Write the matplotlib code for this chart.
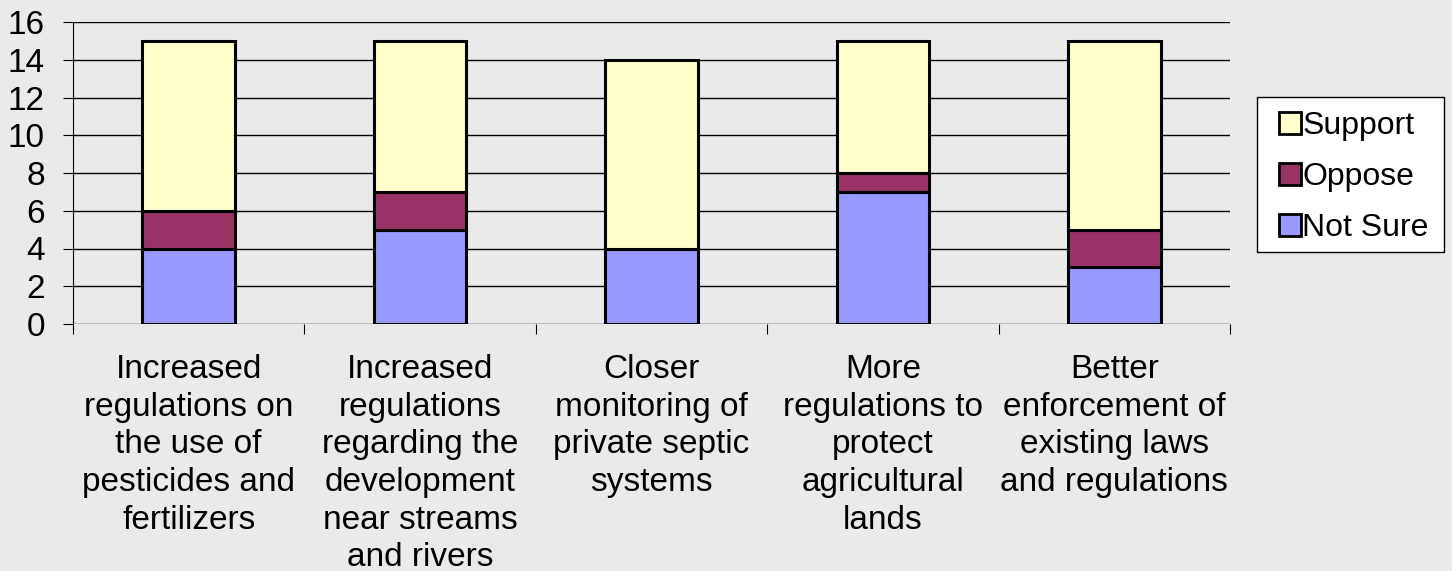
import matplotlib
matplotlib.use("Agg")
import matplotlib.pyplot as plt
import numpy as np
from matplotlib.patches import Patch, Rectangle

categories = [
    "Increased\nregulations on\nthe use of\npesticides and\nfertilizers",
    "Increased\nregulations\nregarding the\ndevelopment\nnear streams\nand rivers",
    "Closer\nmonitoring of\nprivate septic\nsystems",
    "More\nregulations to\nprotect\nagricultural\nlands",
    "Better\nenforcement of\nexisting laws\nand regulations",
]
not_sure = [4, 5, 4, 7, 3]
oppose = [2, 2, 0, 1, 2]
support = [9, 8, 10, 7, 10]

c_notsure = "#9999FF"
c_oppose = "#993366"
c_support = "#FFFFCC"
bg = "#EAEAEA"

plt.rcParams['font.family'] = ['Liberation Sans', 'DejaVu Sans']

W, H = 1452, 571
fig = plt.figure(figsize=(W/100, H/100), dpi=100, facecolor=bg)
ax = fig.add_axes([73/W, 1-324/H, (1230-73)/W, (324-22)/H])
ax.set_facecolor(bg)

x = np.arange(len(categories))
w = 0.4
ns = np.array(not_sure); op = np.array(oppose); sp = np.array(support)
ax.bar(x, ns, w, color=c_notsure, edgecolor="black", linewidth=2.2, zorder=3)
ax.bar(x, op, w, bottom=ns, color=c_oppose, edgecolor="black", linewidth=2.2, zorder=3)
ax.bar(x, sp, w, bottom=ns+op, color=c_support, edgecolor="black", linewidth=2.2, zorder=3)

ax.set_xlim(-0.5, len(categories)-0.5)
ax.set_ylim(0, 16)
ax.set_yticks(range(0, 17, 2))
ax.yaxis.grid(True, color="black", linewidth=1.0, zorder=0)
ax.tick_params(axis='y', labelsize=24, length=7.2, width=0.8, pad=13)

ax.set_xticks(x)
ax.set_xticklabels(categories, fontsize=24, linespacing=1.28)
ax.tick_params(axis='x', which='major', length=0, pad=21.5)
ax.set_xticks(np.arange(-0.5, len(categories), 1.0), minor=True)
ax.tick_params(axis='x', which='minor', length=7.2, width=0.8)

for s in ['top', 'right', 'bottom']:
    ax.spines[s].set_visible(False)
ax.spines['left'].set_linewidth(0.8)

# legend frame
fig.patches.append(Rectangle((1257/W, 1-252/H), (1444-1257)/W, (252-97)/H,
                             transform=fig.transFigure, facecolor='white',
                             edgecolor='black', linewidth=1.0, zorder=1))

handles = [Patch(facecolor=c_support, edgecolor='black', linewidth=2, label='Support'),
           Patch(facecolor=c_oppose, edgecolor='black', linewidth=2, label='Oppose'),
           Patch(facecolor=c_notsure, edgecolor='black', linewidth=2, label='Not Sure')]
leg = fig.legend(handles=handles, loc='upper left',
                 bbox_to_anchor=(1279/W, 1-111/H), fontsize=23,
                 frameon=False,
                 handlelength=0.68, handleheight=0.68, handletextpad=0.05,
                 labelspacing=0.66, borderpad=0, borderaxespad=0)
leg.set_zorder(5)

fig.savefig("out.png", dpi=100, facecolor=bg)
